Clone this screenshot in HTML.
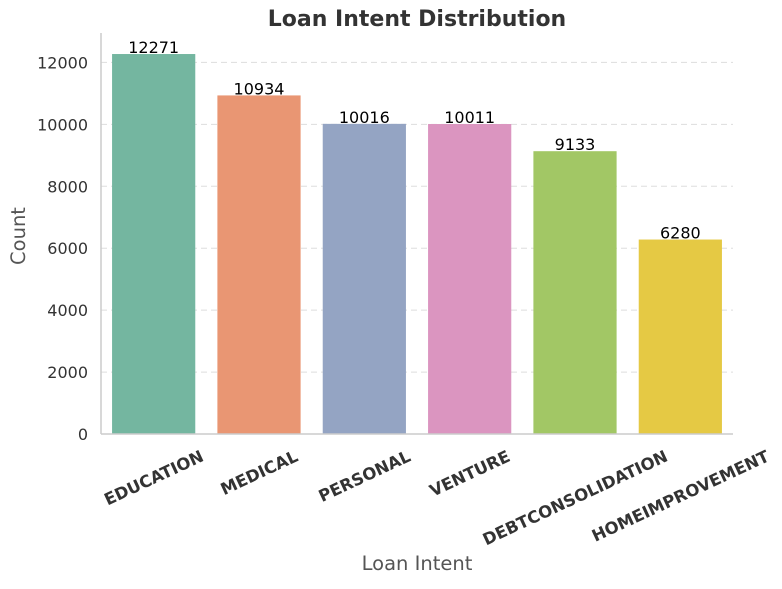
<!DOCTYPE html>
<html><head><meta charset="utf-8"><style>
body{margin:0;background:#fff;}
svg{font-family:"DejaVu Sans","Liberation Sans",sans-serif;}
</style></head><body>
<svg id="chart" width="782" height="584" viewBox="0 0 782 584">
<text x="417" y="26" text-anchor="middle" font-size="22" font-weight="bold" fill="#333">Loan Intent Distribution</text>
<g id="grid"></g>
<g id="bars"></g>
<g id="yticks"></g>
<g id="xticks"></g>
<line x1="101" y1="33" x2="101" y2="434" stroke="#ccc" stroke-width="1.5"/>
<line x1="101" y1="434" x2="733" y2="434" stroke="#ccc" stroke-width="1.5"/>
<text x="417" y="570" text-anchor="middle" font-size="19.5" fill="#555">Loan Intent</text>
<text transform="translate(25,236) rotate(-90)" text-anchor="middle" font-size="19.5" fill="#555">Count</text>
</svg>
<script>
const categories=["EDUCATION","MEDICAL","PERSONAL","VENTURE","DEBTCONSOLIDATION","HOMEIMPROVEMENT"];
const counts=[12271,10934,10016,10011,9133,6280];
const colors=["#74b6a0","#e99673","#94a4c3","#db95c0","#a2c765","#e5c944"];
const yTicks=[0,2000,4000,6000,8000,10000,12000];
const NS="http://www.w3.org/2000/svg";
const x0=101,x1=733,yBase=434,yMax=12950,yTop=33;
const band=(x1-x0)/categories.length;
function y(v){return yBase-v/yMax*(yBase-yTop);}
function xc(i){return x0+band*(i+0.5);}
function mk(tag,attrs,parent){const e=document.createElementNS(NS,tag);for(const k in attrs)e.setAttribute(k,attrs[k]);parent.appendChild(e);return e;}
const grid=document.getElementById('grid'),bars=document.getElementById('bars'),yt=document.getElementById('yticks'),xt=document.getElementById('xticks');
yTicks.forEach(t=>{
  if(t>0){const g=mk('line',{x1:x0,x2:x1,y1:y(t),y2:y(t),stroke:'#ddd','stroke-dasharray':'6,4'},grid);
  
  }
  const tx=mk('text',{x:x0-13,y:y(t)+6,'text-anchor':'end','font-size':'16',fill:'#333'},yt);
  tx.textContent=t;
  
  
});
const a=25*Math.PI/180;
categories.forEach((c,i)=>{
  const w=band*0.79;
  const r=mk('rect',{x:xc(i)-w/2,y:y(counts[i]),width:w,height:yBase-y(counts[i]),fill:colors[i]},bars);
  
  
  const v=mk('text',{x:xc(i),y:y(counts[i])-1,'text-anchor':'middle','font-size':'16',fill:'#000'},bars);
  v.textContent=counts[i];
  
  
  const l=mk('text',{'text-anchor':'middle','font-size':'16.5','font-weight':'bold',fill:'#333'},xt);
  l.textContent=c;
  const tw=l.getComputedTextLength(), th=13;
  const bh=tw*Math.sin(a)+th*Math.cos(a);
  const cy=449+bh/2;
  l.setAttribute('transform',`translate(${xc(i)},${cy}) rotate(-25)`);
  l.setAttribute('dy','6');
  
  
});
</script>
</body></html>
